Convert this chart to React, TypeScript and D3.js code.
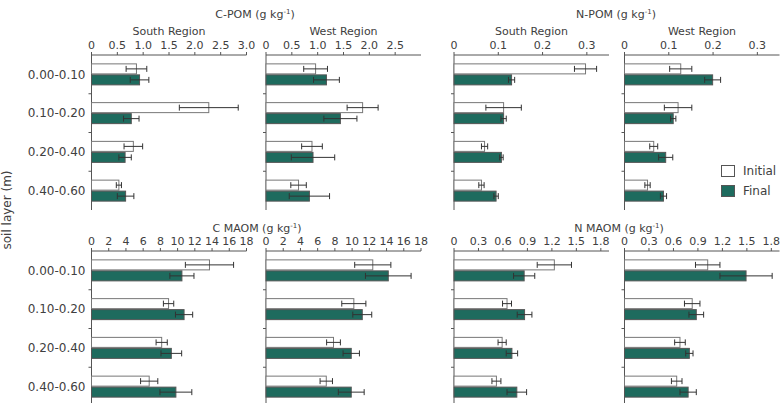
import React from "react";
import * as d3 from "d3";

// soil depth layers (m)
const layers = ["0.00-0.10", "0.10-0.20", "0.20-0.40", "0.40-0.60"];

// C-POM (g kg-1)
const cPomSouthInitial = [0.87, 2.27, 0.81, 0.53];
const cPomSouthInitialErr = [0.2, 0.57, 0.18, 0.05];
const cPomSouthFinal = [0.93, 0.77, 0.65, 0.66];
const cPomSouthFinalErr = [0.18, 0.15, 0.12, 0.16];
const cPomWestInitial = [0.96, 1.87, 0.89, 0.63];
const cPomWestInitialErr = [0.23, 0.3, 0.2, 0.15];
const cPomWestFinal = [1.17, 1.44, 0.91, 0.84];
const cPomWestFinalErr = [0.25, 0.32, 0.42, 0.39];

// N-POM (g kg-1)
const nPomSouthInitial = [0.297, 0.112, 0.069, 0.062];
const nPomSouthInitialErr = [0.025, 0.04, 0.007, 0.006];
const nPomSouthFinal = [0.13, 0.112, 0.107, 0.095];
const nPomSouthFinalErr = [0.007, 0.006, 0.004, 0.005];
const nPomWestInitial = [0.127, 0.121, 0.066, 0.052];
const nPomWestInitialErr = [0.025, 0.031, 0.009, 0.006];
const nPomWestFinal = [0.199, 0.11, 0.093, 0.088];
const nPomWestFinalErr = [0.018, 0.006, 0.016, 0.007];

// C MAOM (g kg-1)
const cMaomSouthInitial = [13.7, 8.95, 8.15, 6.7];
const cMaomSouthInitialErr = [2.8, 0.6, 0.65, 1.0];
const cMaomSouthFinal = [10.5, 10.75, 9.27, 9.8];
const cMaomSouthFinalErr = [1.4, 1.0, 1.2, 1.85];
const cMaomWestInitial = [12.4, 10.2, 7.84, 7.0];
const cMaomWestInitialErr = [2.1, 1.4, 0.8, 0.72];
const cMaomWestFinal = [14.2, 11.18, 9.9, 9.9];
const cMaomWestFinalErr = [2.65, 1.1, 0.95, 1.5];

// N MAOM (g kg-1)
const nMaomSouthInitial = [1.23, 0.65, 0.59, 0.52];
const nMaomSouthInitialErr = [0.21, 0.055, 0.05, 0.055];
const nMaomSouthFinal = [0.86, 0.865, 0.71, 0.77];
const nMaomSouthFinalErr = [0.13, 0.09, 0.07, 0.12];
const nMaomWestInitial = [1.02, 0.83, 0.68, 0.64];
const nMaomWestInitialErr = [0.15, 0.095, 0.065, 0.065];
const nMaomWestFinal = [1.49, 0.88, 0.795, 0.78];
const nMaomWestFinalErr = [0.32, 0.09, 0.045, 0.1];

// axis ticks
const cPomTicks = [0, 0.5, 1.0, 1.5, 2.0, 2.5, 3.0];
const cPomTicksWest = [0, 0.5, 1.0, 1.5, 2.0, 2.5];
const nPomTicks = [0, 0.1, 0.2, 0.3];
const cMaomTicks = [0, 2, 4, 6, 8, 10, 12, 14, 16, 18];
const nMaomTicks = [0, 0.3, 0.6, 0.9, 1.2, 1.5, 1.8];

const FINAL = "#1e6b5e";
const INK = "#404040";
const EDGE = "#555";
const EDGE_LIGHT = "#777";
const FONT = "DejaVu Sans, sans-serif";
const PW = 155;
const BAND = 38.75;

const fmt1 = (v: number) => (v === 0 ? "0" : v.toFixed(1));
const fmtInt = (v: number) => String(v);

function Panel({ x0, axisY, max, ticks, tickFmt, init, initErr, fin, finErr, showLayers, subtitle }: any) {
  const x = d3.scaleLinear().domain([0, max]).range([x0, x0 + PW]);
  const y = d3
    .scaleBand()
    .domain(layers)
    .range([axisY, axisY + BAND * layers.length]);
  const bh = 10;

  const errBar = (c: number, v: number, e: number, key: string) => (
    <g key={key} stroke="#333" strokeWidth={1}>
      <line x1={x(v - e)} x2={x(v + e)} y1={c} y2={c} />
      <line x1={x(v - e)} x2={x(v - e)} y1={c - 3} y2={c + 3} />
      <line x1={x(v + e)} x2={x(v + e)} y1={c - 3} y2={c + 3} />
    </g>
  );

  return (
    <g>
      {subtitle && (
        <text x={x0 + PW / 2} y={axisY - 20} textAnchor="middle" fontSize={11} fill={INK}>
          {subtitle}
        </text>
      )}
      <line x1={x(0)} x2={x(max)} y1={axisY} y2={axisY} stroke={EDGE} />
      {ticks.map((t: number) => (
        <g key={t}>
          <line x1={x(t)} x2={x(t)} y1={axisY} y2={axisY - 3} stroke={EDGE} />
          <text x={x(t)} y={axisY - 6} textAnchor="middle" fontSize={11} fill={INK}>
            {tickFmt(t)}
          </text>
        </g>
      ))}
      <line x1={x(0)} x2={x(0)} y1={axisY} y2={axisY + BAND * layers.length} stroke={EDGE} />
      {layers.map((l, i) => {
        const c = (y(l) as number) + y.bandwidth() / 2;
        return (
          <g key={l}>
            {i > 0 && <line x1={x(0) - 3} x2={x(0)} y1={y(l)} y2={y(l)} stroke={EDGE} />}
            {showLayers && (
              <text x={x(0) - 6} y={c} dy="0.35em" textAnchor="end" fontSize={12} fill={INK}>
                {l}
              </text>
            )}
            <rect x={x(0)} y={c - bh - 0.5} width={x(init[i]) - x(0)} height={bh} fill="#fff" stroke={EDGE_LIGHT} />
            <rect x={x(0)} y={c + 0.5} width={x(fin[i]) - x(0)} height={bh} fill={FINAL} stroke={EDGE} />
            {errBar(c - bh / 2 - 0.5, init[i], initErr[i], "ei")}
            {errBar(c + bh / 2 + 0.5, fin[i], finErr[i], "ef")}
          </g>
        );
      })}
    </g>
  );
}

const Title = ({ x, y, name }: any) => (
  <text x={x} y={y} textAnchor="middle" fontSize={11} fill={INK}>
    {name} (g kg
    <tspan dy={-4} fontSize={7}>
      -1
    </tspan>
    <tspan dy={4}>)</tspan>
  </text>
);

export default function App() {
  const xs = [91.5, 266, 454, 624.5];
  const top = 55;
  const bottom = 251;
  return (
    <svg
      width={781}
      height={403}
      style={{ position: "absolute", left: 0, top: 0, background: "#fff" }}
      fontFamily={FONT}
    >
      <Title x={255} y={18} name="C-POM" />
      <Title x={616} y={18} name="N-POM" />
      <Title x={257} y={232} name="C MAOM" />
      <Title x={619} y={232} name="N MAOM" />

      <Panel x0={xs[0]} axisY={top} max={3} ticks={cPomTicks} tickFmt={fmt1} subtitle="South Region" showLayers
        init={cPomSouthInitial} initErr={cPomSouthInitialErr} fin={cPomSouthFinal} finErr={cPomSouthFinalErr} />
      <Panel x0={xs[1]} axisY={top} max={3} ticks={cPomTicksWest} tickFmt={fmt1} subtitle="West Region"
        init={cPomWestInitial} initErr={cPomWestInitialErr} fin={cPomWestFinal} finErr={cPomWestFinalErr} />
      <Panel x0={xs[2]} axisY={top} max={0.35} ticks={nPomTicks} tickFmt={fmt1} subtitle="South Region"
        init={nPomSouthInitial} initErr={nPomSouthInitialErr} fin={nPomSouthFinal} finErr={nPomSouthFinalErr} />
      <Panel x0={xs[3]} axisY={top} max={0.35} ticks={nPomTicks} tickFmt={fmt1} subtitle="West Region"
        init={nPomWestInitial} initErr={nPomWestInitialErr} fin={nPomWestFinal} finErr={nPomWestFinalErr} />

      <Panel x0={xs[0]} axisY={bottom} max={18} ticks={cMaomTicks} tickFmt={fmtInt} showLayers
        init={cMaomSouthInitial} initErr={cMaomSouthInitialErr} fin={cMaomSouthFinal} finErr={cMaomSouthFinalErr} />
      <Panel x0={xs[1]} axisY={bottom} max={18} ticks={cMaomTicks} tickFmt={fmtInt}
        init={cMaomWestInitial} initErr={cMaomWestInitialErr} fin={cMaomWestFinal} finErr={cMaomWestFinalErr} />
      <Panel x0={xs[2]} axisY={bottom} max={1.9} ticks={nMaomTicks} tickFmt={fmt1}
        init={nMaomSouthInitial} initErr={nMaomSouthInitialErr} fin={nMaomSouthFinal} finErr={nMaomSouthFinalErr} />
      <Panel x0={xs[3]} axisY={bottom} max={1.9} ticks={nMaomTicks} tickFmt={fmt1}
        init={nMaomWestInitial} initErr={nMaomWestInitialErr} fin={nMaomWestFinal} finErr={nMaomWestFinalErr} />

      <text transform="translate(11,210) rotate(-90)" textAnchor="middle" fontSize={12} fill={INK}>
        soil layer (m)
      </text>

      {/* legend */}
      <rect x={721.5} y={165.5} width={13} height={11} fill="#fff" stroke={EDGE} />
      <text x={743} y={171} dy="0.35em" fontSize={12} fill={INK}>Initial</text>
      <rect x={721.5} y={185.5} width={13} height={11} fill={FINAL} stroke={EDGE} />
      <text x={743} y={191} dy="0.35em" fontSize={12} fill={INK}>Final</text>
    </svg>
  );
}
